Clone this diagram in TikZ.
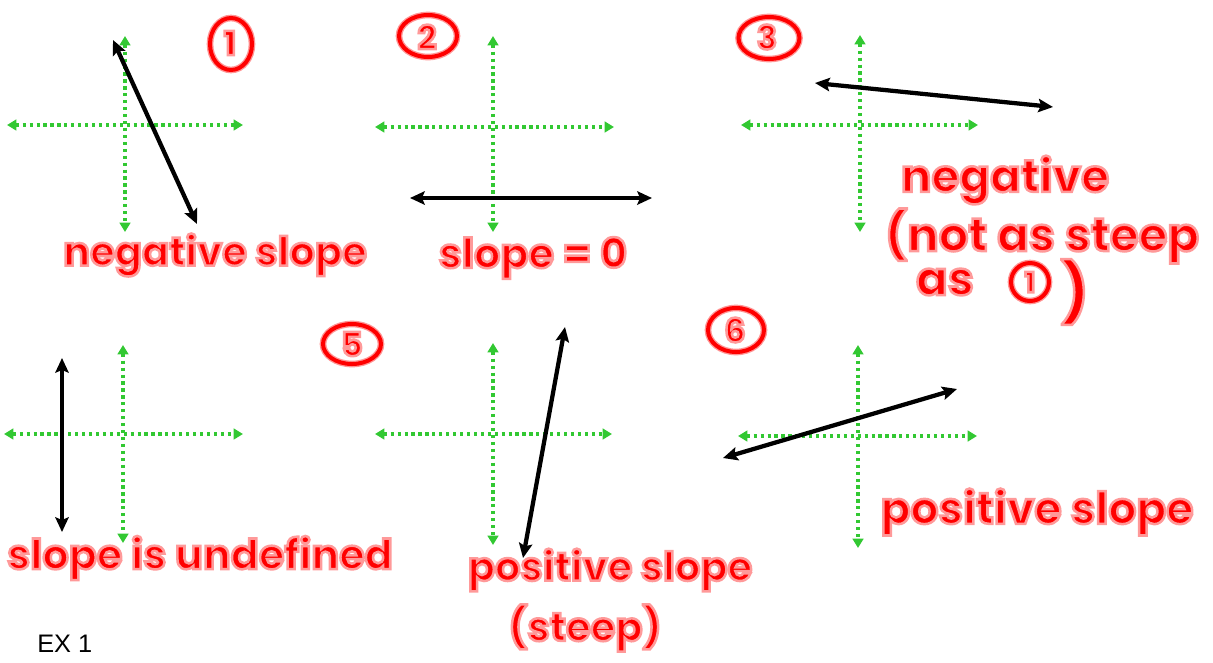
\documentclass[tikz,border=0pt]{standalone}
\usepackage{fontspec}
\setmainfont{Poppins}
\newfontfamily\arialf{Liberation Sans}
\usetikzlibrary{arrows.meta,shapes.geometric}
\definecolor{axgreen}{RGB}{50,200,50}
\definecolor{halo}{RGB}{255,150,150}
% red text with a pink stroked edge (text render mode 2)
\newcommand{\hw}[1]{\special{pdf:literal direct 2 Tr 1.9 w 1 0.6 0.6 RG}#1\special{pdf:literal direct 0 Tr}}
\begin{document}
\begin{tikzpicture}[x=0.75pt,y=-0.75pt,
  axis/.style={draw=axgreen, line width=2.4pt, dash pattern=on 2.4pt off 2.8pt,
    {Triangle[length=7pt,width=8pt]}-{Triangle[length=7pt,width=8pt]}},
  line/.style={draw=black, line width=3.2pt,
    {Stealth[length=11pt,width=10pt,inset=2pt]}-{Stealth[length=11pt,width=10pt,inset=2pt]}},
  lab/.style={text=red, inner sep=0pt},
  digit/.style={text=red, inner sep=0pt, font=\bfseries\fontsize{25}{27}\selectfont},
  ringline/.style={draw=halo, double=red, line width=1pt, double distance=3pt},
  ex/.style={text=black, font=\arialf\fontsize{19}{21}\selectfont, inner sep=0pt}]
\useasboundingbox (0,0) rectangle (1213,662);

% ---------- axes ----------
\coordinate (a1t) at (125,36);  \coordinate (a1b) at (125,232);
\coordinate (a1l) at (7,125);   \coordinate (a1r) at (243,125);
\coordinate (a2t) at (493,36);  \coordinate (a2b) at (493,232);
\coordinate (a2l) at (375,127); \coordinate (a2r) at (614,127);
\coordinate (a3t) at (860,35);  \coordinate (a3b) at (860,232);
\coordinate (a3l) at (741,125); \coordinate (a3r) at (978,125);
\coordinate (a5t) at (123,345); \coordinate (a5b) at (123,543);
\coordinate (a5l) at (4,434);   \coordinate (a5r) at (243,434);
\coordinate (a4t) at (493,343); \coordinate (a4b) at (493,545);
\coordinate (a4l) at (375,434); \coordinate (a4r) at (612,434);
\coordinate (a6t) at (858,345); \coordinate (a6b) at (858,548);
\coordinate (a6l) at (738,436); \coordinate (a6r) at (977,436);
\foreach \k in {1,2,3,5,4,6}{
  \draw[axis] (a\k t) -- (a\k b);
  \draw[axis] (a\k l) -- (a\k r);
}

% ---------- lines ----------
\coordinate (l1a) at (113,40);  \coordinate (l1b) at (197,224);
\coordinate (l2a) at (410,198); \coordinate (l2b) at (652,198);
\coordinate (l3a) at (815,83);  \coordinate (l3b) at (1053,107);
\coordinate (l5a) at (62,358);  \coordinate (l5b) at (62,532);
\coordinate (l4a) at (565,327); \coordinate (l4b) at (523,558);
\coordinate (l6a) at (723,458); \coordinate (l6b) at (957,389);
\foreach \k in {1,2,3,5,4,6}{
  \draw[line] (l\k a) -- (l\k b);
}

% ---------- circled numbers ----------
\node[digit] (n1) at (230,43) {\hw{1}};
\draw[ringline] (231,44) ellipse [x radius=21, y radius=26];
\node[digit] (n2) at (427,37) {\hw{2}};
\draw[ringline] (428,36) ellipse [x radius=29, y radius=21];
\node[digit] (n3) at (767,37) {\hw{3}};
\draw[ringline] (769,38) ellipse [x radius=30.5, y radius=21];
\node[digit] (n5) at (352,344) {\hw{5}};
\draw[ringline] (n5.center) ellipse [x radius=29, y radius=20];
\node[digit] (n6) at (735,330) {\hw{6}};
\draw[ringline] (736,330) ellipse [x radius=28, y radius=22];

% ---------- labels ----------
\node[lab, font=\bfseries\fontsize{30}{32}\selectfont] (t1) at (215,255) {\hw{negative slope}};
\node[lab, font=\bfseries\fontsize{31}{33}\selectfont] (t2) at (533,258) {\hw{slope = 0}};
\node[lab, font=\bfseries\fontsize{34}{36}\selectfont] (t3a) at (1005,180) {\hw{negative}};
\node[lab, font=\bfseries\fontsize{35}{37}\selectfont] (t3b) at (1042,236) {\hw{(not as steep}};
\node[lab, font=\bfseries\fontsize{35}{37}\selectfont] (t3c) at (945,282) {\hw{as}};
\node[digit, font=\bfseries\fontsize{21}{23}\selectfont] (t3d) at (1030,282) {\hw{1}};
\draw[ringline] (t3d.center) ellipse [x radius=19, y radius=19];
\node[lab, font=\bfseries\fontsize{44}{48}\selectfont] (t3e) at (1075,292) {\hw{)}};
\node[lab, font=\bfseries\fontsize{31}{33}\selectfont] (t5) at (200,558) {\hw{slope is undefined}};
\node[lab, font=\bfseries\fontsize{30}{32}\selectfont] (t4a) at (610,570) {\hw{positive slope}};
\node[lab, font=\bfseries\fontsize{30}{32}\selectfont] (t4b) at (585,628) {\hw{(steep)}};
\node[lab, font=\bfseries\fontsize{33}{35}\selectfont] (t6) at (1037,512) {\hw{positive slope}};

\node[ex, anchor=base west] (ex) at (37,652) {EX 1};
\end{tikzpicture}
\end{document}
